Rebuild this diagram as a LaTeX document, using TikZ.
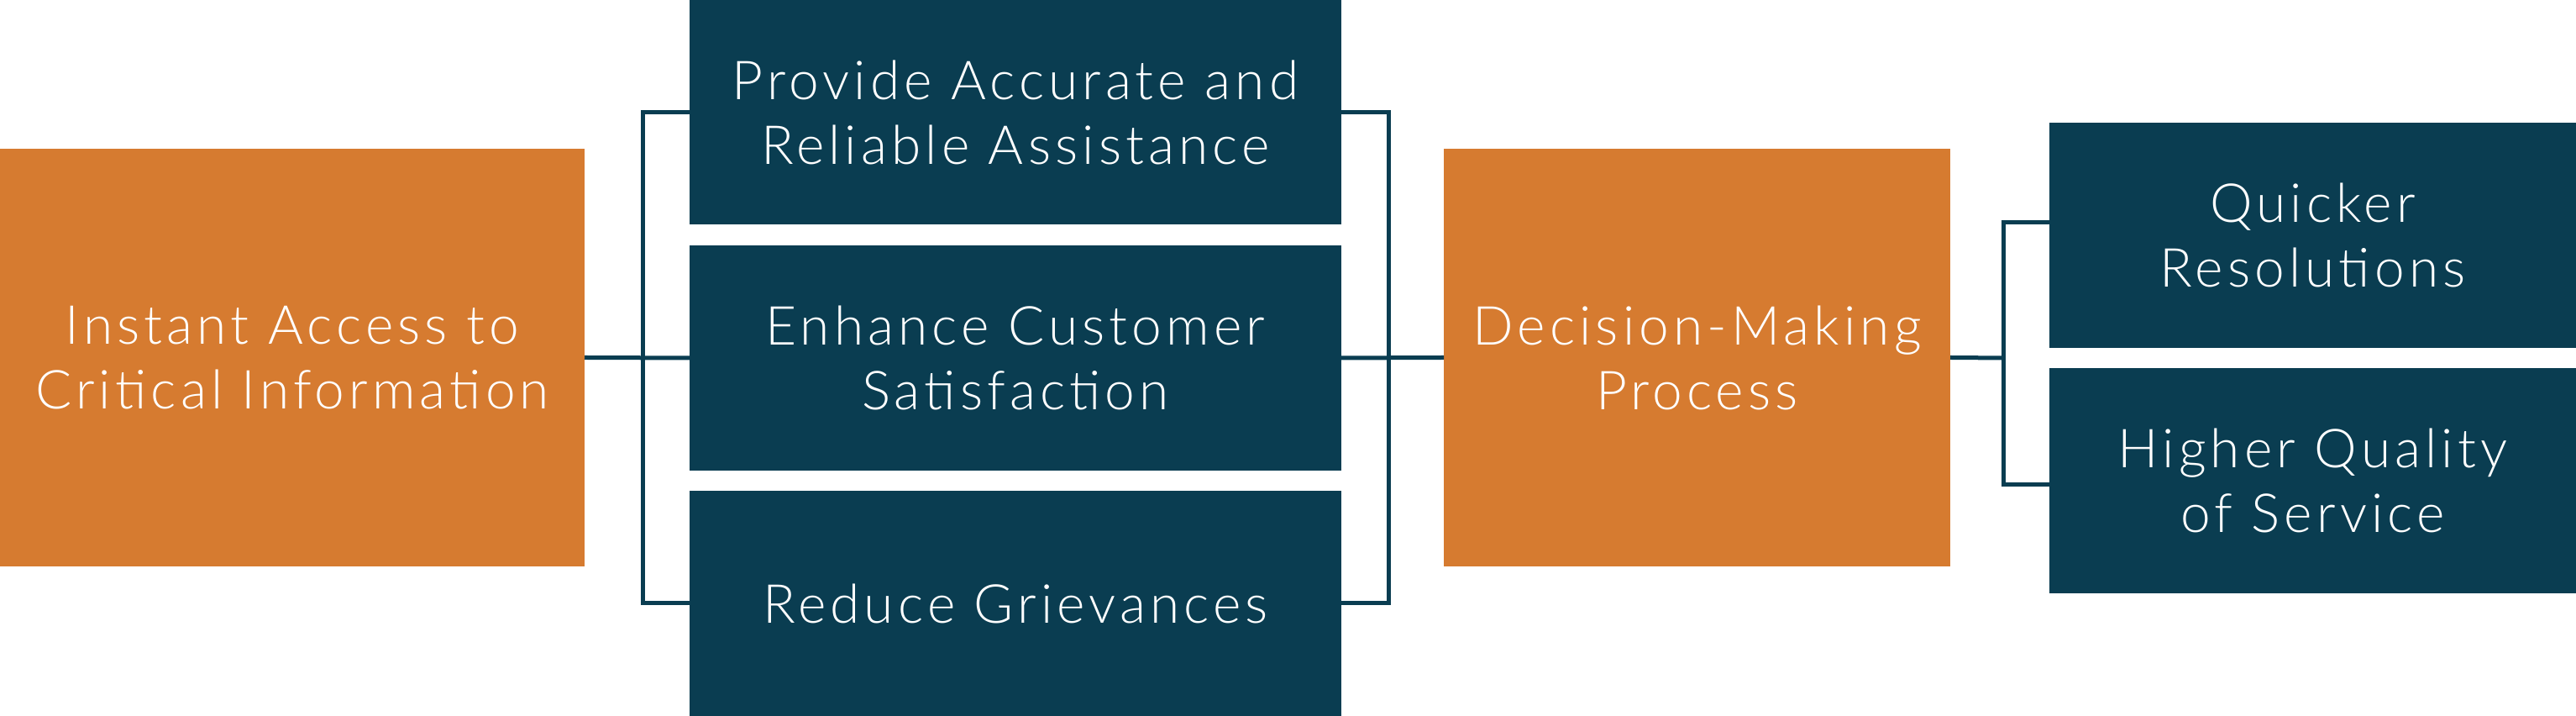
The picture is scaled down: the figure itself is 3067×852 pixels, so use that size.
\documentclass[tikz,border=0pt]{standalone}
\usepackage{fontspec}
\setmainfont{Lato Light}[LetterSpace=8]
\definecolor{orng}{HTML}{D67B30}
\definecolor{navy}{HTML}{0A3D51}
\begin{document}
\begin{tikzpicture}[x=0.25pt,y=-0.25pt,
  box/.style={rectangle, inner sep=0pt, outer sep=0pt, align=center, text=white,
    font=\fontsize{16}{19.25}\selectfont, anchor=north west},
  obox/.style={box, fill=orng},
  nbox/.style={box, fill=navy},
  conn/.style={draw=navy, line width=1.25pt, line join=miter}]
\useasboundingbox (0,0) rectangle (3067,852);
% nodes
\node[obox, minimum width=174pt, minimum height=124.25pt] (a) at (0,177) {Instant Access to\\Critical Information};
\node[nbox, minimum width=194pt, minimum height=66.75pt] (b1) at (821,0) {Provide Accurate and\\Reliable Assistance};
\node[nbox, minimum width=194pt, minimum height=67pt] (b2) at (821,292) {Enhance Customer\\Satisfaction};
\node[nbox, minimum width=194pt, minimum height=67pt] (b3) at (821,584) {Reduce Grievances};
\node[obox, minimum width=150.75pt, minimum height=124.25pt] (c) at (1719,177) {Decision-Making\\Process};
\node[nbox, minimum width=156.75pt, minimum height=67pt] (d1) at (2440,146) {Quicker\\Resolutions};
\node[nbox, minimum width=156.75pt, minimum height=67pt] (d2) at (2440,438) {Higher Quality\\of Service};
% helper coordinates
\coordinate (lx) at (765,426);
\coordinate (mx) at (1653,426);
\coordinate (rx) at (2385,426);
\coordinate (r1) at (2440,265);
\coordinate (r2) at (2440,577);
% connectors
\draw[conn] (a.east) -- (b2.west);
\draw[conn] (b1.west) -| (lx) |- (b3.west);
\draw[conn] (b2.east) -- (c.west);
\draw[conn] (b1.east) -| (mx) |- (b3.east);
\draw[conn] (c.east) -- (rx);
\draw[conn] (r1) -| (rx) |- (r2);
\end{tikzpicture}
\end{document}
